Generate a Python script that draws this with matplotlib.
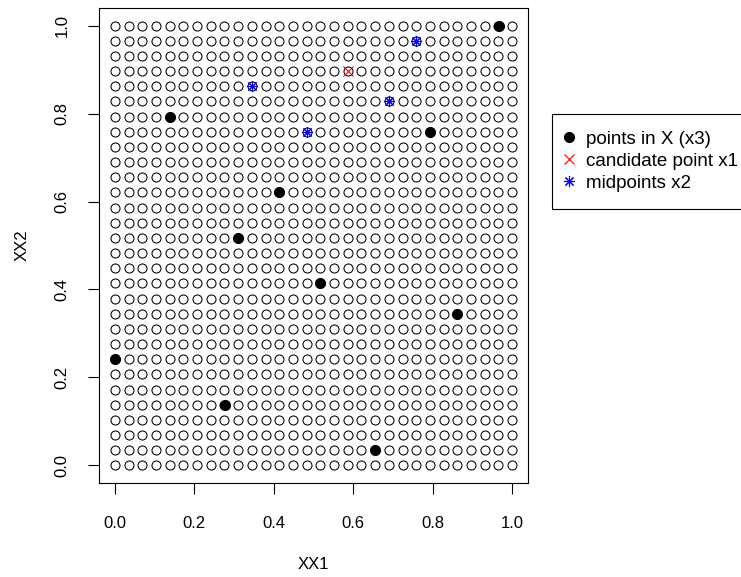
import numpy as np
import matplotlib
matplotlib.use('Agg')
import matplotlib.pyplot as plt

plt.rcParams['font.family'] = ['Liberation Sans', 'DejaVu Sans']
plt.rcParams['font.size'] = 12

# candidate grid XX (30 x 30 on the unit square)
n_grid = 30
grid = np.linspace(0, 1, n_grid)
gx, gy = np.meshgrid(grid, grid)

# points in X (x3)
x3_x = [0.966, 0.138, 0.793, 0.414, 0.310, 0.517, 0.862, 0.000, 0.276, 0.655]
x3_y = [1.000, 0.793, 0.759, 0.621, 0.517, 0.414, 0.345, 0.241, 0.138, 0.034]

# candidate point x1
x1_x = [0.586]
x1_y = [0.897]

# midpoints x2
x2_x = [0.759, 0.345, 0.690, 0.483]
x2_y = [0.966, 0.862, 0.828, 0.759]

ticks = [0.0, 0.2, 0.4, 0.6, 0.8, 1.0]
tick_labels = ['0.0', '0.2', '0.4', '0.6', '0.8', '1.0']

fig = plt.figure(figsize=(7.41, 5.77), dpi=100)
ax = fig.add_axes([99 / 741, 94 / 577, 429 / 741, 475 / 577])

ax.plot(gx.ravel(), gy.ravel(), linestyle='none', marker='o', markersize=6.5,
        markerfacecolor='none', markeredgecolor='black', markeredgewidth=0.75)
h1, = ax.plot(x3_x, x3_y, linestyle='none', marker='o', markersize=7,
              color='black', label='points in X (x3)')
h2, = ax.plot(x1_x, x1_y, linestyle='none', marker='x', markersize=6.5,
              markeredgewidth=0.8, color='red', label='candidate point x1')
h3, = ax.plot(x2_x, x2_y, linestyle='none', marker=(8, 2, 0), markersize=8,
              markeredgewidth=0.8, color='blue', label='midpoints x2')

ax.set_xlim(-0.04, 1.04)
ax.set_ylim(-0.04, 1.04)
ax.set_xticks(ticks)
ax.set_xticklabels(tick_labels)
ax.set_yticks(ticks)
ax.set_yticklabels(tick_labels, rotation=90, va='center')
ax.tick_params(direction='out', length=8, width=0.8)
ax.tick_params(axis='x', pad=16)
ax.tick_params(axis='y', pad=13)
ax.set_xlabel('XX1', labelpad=18.5)
ax.set_ylabel('XX2', labelpad=18.5)
for s in ax.spines.values():
    s.set_linewidth(0.8)

fig.legend(handles=[h1, h2, h3], loc='upper left',
           bbox_to_anchor=(552 / 741, 1 - 114 / 577), borderaxespad=0,
           fancybox=False, edgecolor='black', framealpha=1, fontsize=13.5,
           borderpad=0.9, handlelength=0.05, handletextpad=0.86,
           labelspacing=0.25)
fig.legends[0].get_frame().set_linewidth(0.8)

fig.savefig('out.png', dpi=100)
